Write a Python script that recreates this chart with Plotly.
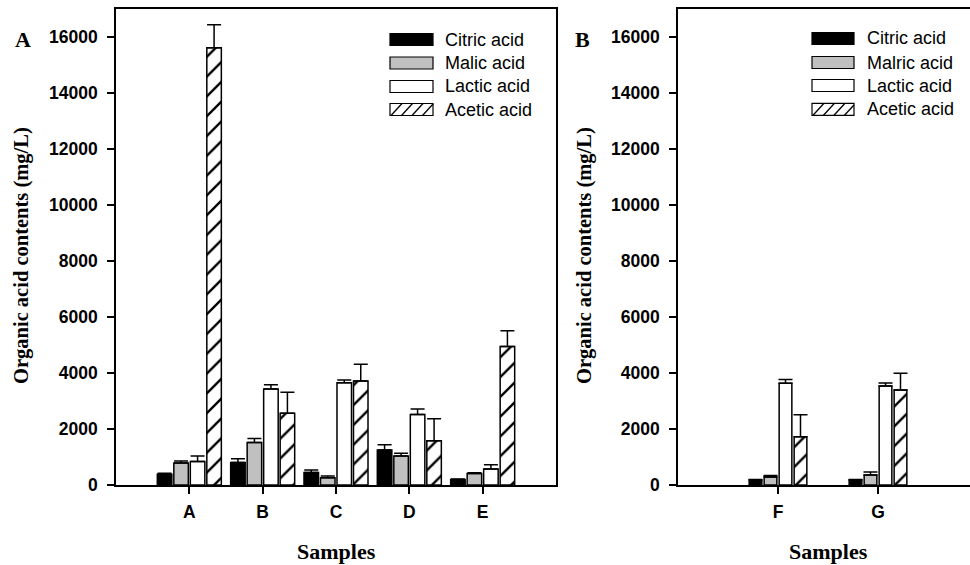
import plotly.graph_objects as go

# ---------------- data ----------------
samples_a = ["A", "B", "C", "D", "E"]
citric_a = [380, 800, 450, 1250, 200]
citric_a_err = [40, 140, 90, 190, 15]
malic_a = [790, 1520, 260, 1040, 410]
malic_a_err = [70, 140, 60, 90, 25]
lactic_a = [840, 3430, 3650, 2520, 570]
lactic_a_err = [200, 150, 100, 190, 150]
acetic_a = [15620, 2560, 3710, 1580, 4950]
acetic_a_err = [820, 750, 600, 790, 560]

samples_b = ["F", "G"]
citric_b = [180, 180]
citric_b_err = [20, 20]
malic_b = [290, 360]
malic_b_err = [50, 100]
lactic_b = [3630, 3540]
lactic_b_err = [140, 100]
acetic_b = [1720, 3390]
acetic_b_err = [790, 600]

legend_a = ["Citric acid", "Malic acid", "Lactic acid", "Acetic acid"]
legend_b = ["Citric acid", "Malric acid", "Lactic acid", "Acetic acid"]
y_ticks = [0, 2000, 4000, 6000, 8000, 10000, 12000, 14000, 16000]
y_ticktext = [str(v) for v in y_ticks]

# ---------------- helpers ----------------
W, H = 970, 565
def px(x): return x / W
def py(y): return 1 - y / H

GREY = "#c0c0c0"
fills = ["black", GREY, "white", "white"]
patterns = [None, None, None, "/"]

fig = go.Figure()

def add_panel(xcats, series, xa, ya, step, width, capw):
    n = len(series)
    total = (n - 1) * step + width
    for i, (vals, errs) in enumerate(series):
        marker = dict(color=fills[i], line=dict(color="black", width=1.5))
        if patterns[i]:
            marker["pattern"] = dict(shape="/", fgcolor="black", bgcolor="white",
                                     size=14, solidity=0.17)
        fig.add_trace(go.Bar(
            x=xcats, y=vals, xaxis=xa, yaxis=ya,
            width=width, offset=-total / 2 + i * step,
            marker=marker,
            error_y=dict(type="data", symmetric=False, array=errs,
                         arrayminus=[0] * len(errs), color="black",
                         thickness=1.5, width=capw),
            showlegend=False, hoverinfo="skip"))

add_panel(samples_a, [(citric_a, citric_a_err), (malic_a, malic_a_err),
                      (lactic_a, lactic_a_err), (acetic_a, acetic_a_err)],
          "x", "y", 0.225, 0.198, 7)
add_panel(samples_b, [(citric_b, citric_b_err), (malic_b, malic_b_err),
                      (lactic_b, lactic_b_err), (acetic_b, acetic_b_err)],
          "x2", "y2", 0.15, 0.127, 7)

tickfont = dict(family="Liberation Sans", size=17.5, color="black", weight="bold")
ax_common = dict(showline=True, linecolor="black", linewidth=1.5, ticks="outside",
                 ticklen=7, tickwidth=1.5, tickcolor="black", tickfont=tickfont,
                 showgrid=False, zeroline=False, fixedrange=True, automargin=False)
ydom = [py(485), py(9)]

fig.update_layout(
    template="none",
    width=W, height=H, autosize=False, margin=dict(l=0, r=0, t=0, b=0, pad=0),
    paper_bgcolor="white", plot_bgcolor="white", barmode="overlay",
    showlegend=False,
    xaxis=dict(ax_common, domain=[px(116), px(556)], range=[-1, 5], type="category",
               mirror=True, anchor="y", ticklabelstandoff=3),
    yaxis=dict(ax_common, domain=ydom, range=[0, 17000], tickvals=y_ticks,
               ticktext=y_ticktext, mirror=True, anchor="x", ticklabelstandoff=6),
    xaxis2=dict(ax_common, domain=[px(678), 1], range=[-1, 1.92], type="category",
                mirror=True, anchor="y2", ticklabelstandoff=3),
    yaxis2=dict(ax_common, domain=ydom, range=[0, 17000], tickvals=y_ticks,
                ticktext=y_ticktext, mirror=False, anchor="x2", ticklabelstandoff=6),
)

serif = dict(family="Liberation Serif", size=22, color="black", weight="bold")
serif_y = dict(family="Liberation Serif", size=20.5, color="black", weight="bold")
ann = []
def text(x, y, s, font, angle=0, xanchor="center"):
    ann.append(dict(x=px(x), y=py(y), xref="paper", yref="paper", text=s,
                    showarrow=False, font=font, textangle=angle,
                    xanchor=xanchor, yanchor="middle"))

text(23, 39, "A", serif)
text(582, 39, "B", serif)
text(21, 256, "Organic acid contents (mg/L)", serif_y, angle=-90)
text(584, 256, "Organic acid contents (mg/L)", serif_y, angle=-90)
text(336, 551, "Samples", serif)
text(828, 551, "Samples", serif)

# legends (drawn manually)
shapes = []
legfont = dict(family="Liberation Sans", size=18, color="black")
def legend(x0, x1, xt, rows, labels):
    for i, (yc, lab) in enumerate(zip(rows, labels)):
        y0, y1 = yc - 6, yc + 6
        shapes.append(dict(type="rect", xref="paper", yref="paper",
                           x0=px(x0), x1=px(x1), y0=py(y1), y1=py(y0),
                           fillcolor=fills[i], line=dict(color="black", width=1.2)))
        if patterns[i]:
            for xb in range(0, 4):
                xs = x0 + 1 + xb * 10.5
                shapes.append(dict(type="line", xref="paper", yref="paper",
                                   x0=px(xs), y0=py(y1), x1=px(min(xs + 11, x1)),
                                   y1=py(y0 + (max(0, xs + 11 - x1)) * 12 / 11),
                                   line=dict(color="black", width=1.3)))
        text(xt, yc, lab, legfont, xanchor="left")

legend(390, 433, 443, [39.5, 63, 86.5, 109.5], legend_a)
legend(812, 854, 865, [38.5, 62.5, 85.5, 109.3], legend_b)

fig.update_layout(annotations=ann, shapes=shapes)
fig.write_html("out.html")
